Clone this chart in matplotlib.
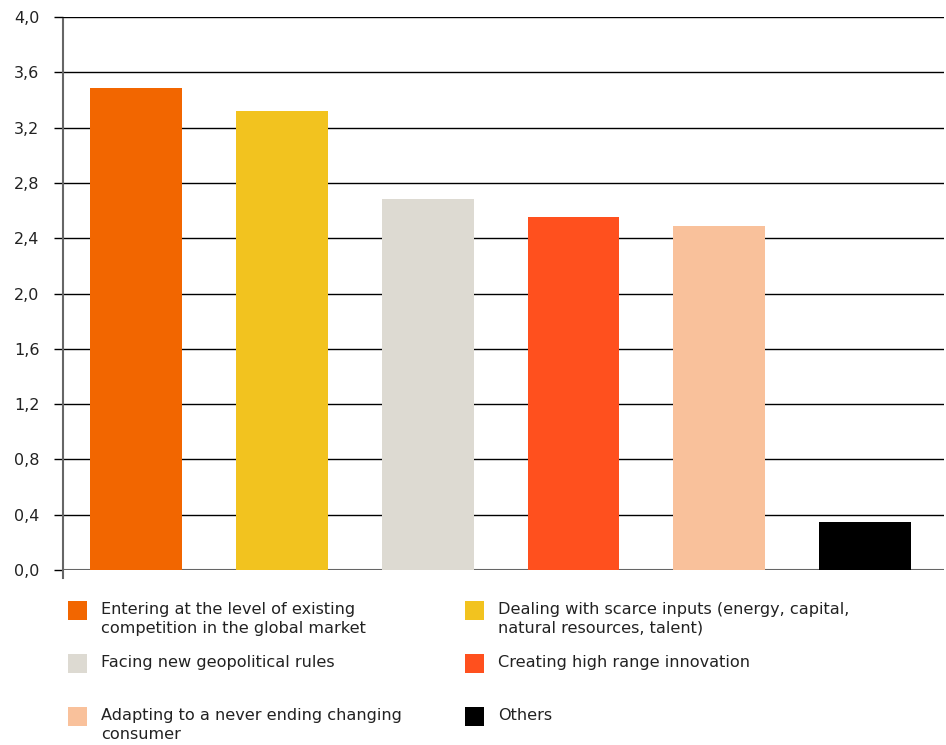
import numpy as np
import matplotlib.pyplot as plt
from matplotlib.patches import Rectangle

plt.rcParams['font.family'] = ['DejaVu Sans']

categories = ["Entering at the level of existing\ncompetition in the global market",
              "Dealing with scarce inputs (energy, capital,\nnatural resources, talent)",
              "Facing new geopolitical rules",
              "Creating high range innovation",
              "Adapting to a never ending changing\nconsumer",
              "Others"]
values = [3.49, 3.32, 2.68, 2.55, 2.49, 0.35]
colors = ["#F26600", "#F2C31F", "#DDDAD2", "#FF501E", "#F9C19B", "#000000"]
yticks = [0.0, 0.4, 0.8, 1.2, 1.6, 2.0, 2.4, 2.8, 3.2, 3.6, 4.0]

fig = plt.figure(figsize=(9.46, 7.45), dpi=100)
fig.patch.set_facecolor('white')
ax = fig.add_axes([63 / 946, 175 / 745, 881 / 946, 553 / 745])

x = np.arange(len(values))
ax.bar(x, values, width=0.63, color=colors, zorder=3)
ax.set_xlim(-0.5, len(values) - 0.46)
ax.set_ylim(0, 4.0)

ax.set_yticks(yticks)
ax.set_yticklabels([f"{t:.1f}".replace('.', ',') for t in yticks],
                   fontsize=11.5, color='#222222')
ax.yaxis.grid(True, color='black', linewidth=1.0, zorder=1)
ax.tick_params(axis='y', length=6.5, width=1.0, color='black', pad=10.5)
ax.set_xticks([])
for s in ['top', 'right', 'bottom']:
    ax.spines[s].set_visible(False)
ax.spines['left'].set_color('#666666')
ax.spines['left'].set_linewidth(1.5)
ax.spines['left'].set_bounds(-0.058, 3.985)
ax.axhline(0, color='#666666', linewidth=1.5, zorder=2)

# legend, two columns
W, H = 946, 745
col_x = [68, 465]
row_y = [610, 663, 716]
for i, (lab, c) in enumerate(zip(categories, colors)):
    cx = col_x[i % 2]
    cy = row_y[i // 2]
    fig.patches.append(Rectangle((cx / W, 1 - (cy + 9.5) / H), 19 / W, 19 / H,
                                 transform=fig.transFigure, facecolor=c,
                                 edgecolor='none'))
    fig.text((cx + 33) / W, 1 - (cy - 8) / H, lab, fontsize=11.6, color='#222222',
             va='top', ha='left', linespacing=1.3)

fig.savefig('out.png', dpi=100)
